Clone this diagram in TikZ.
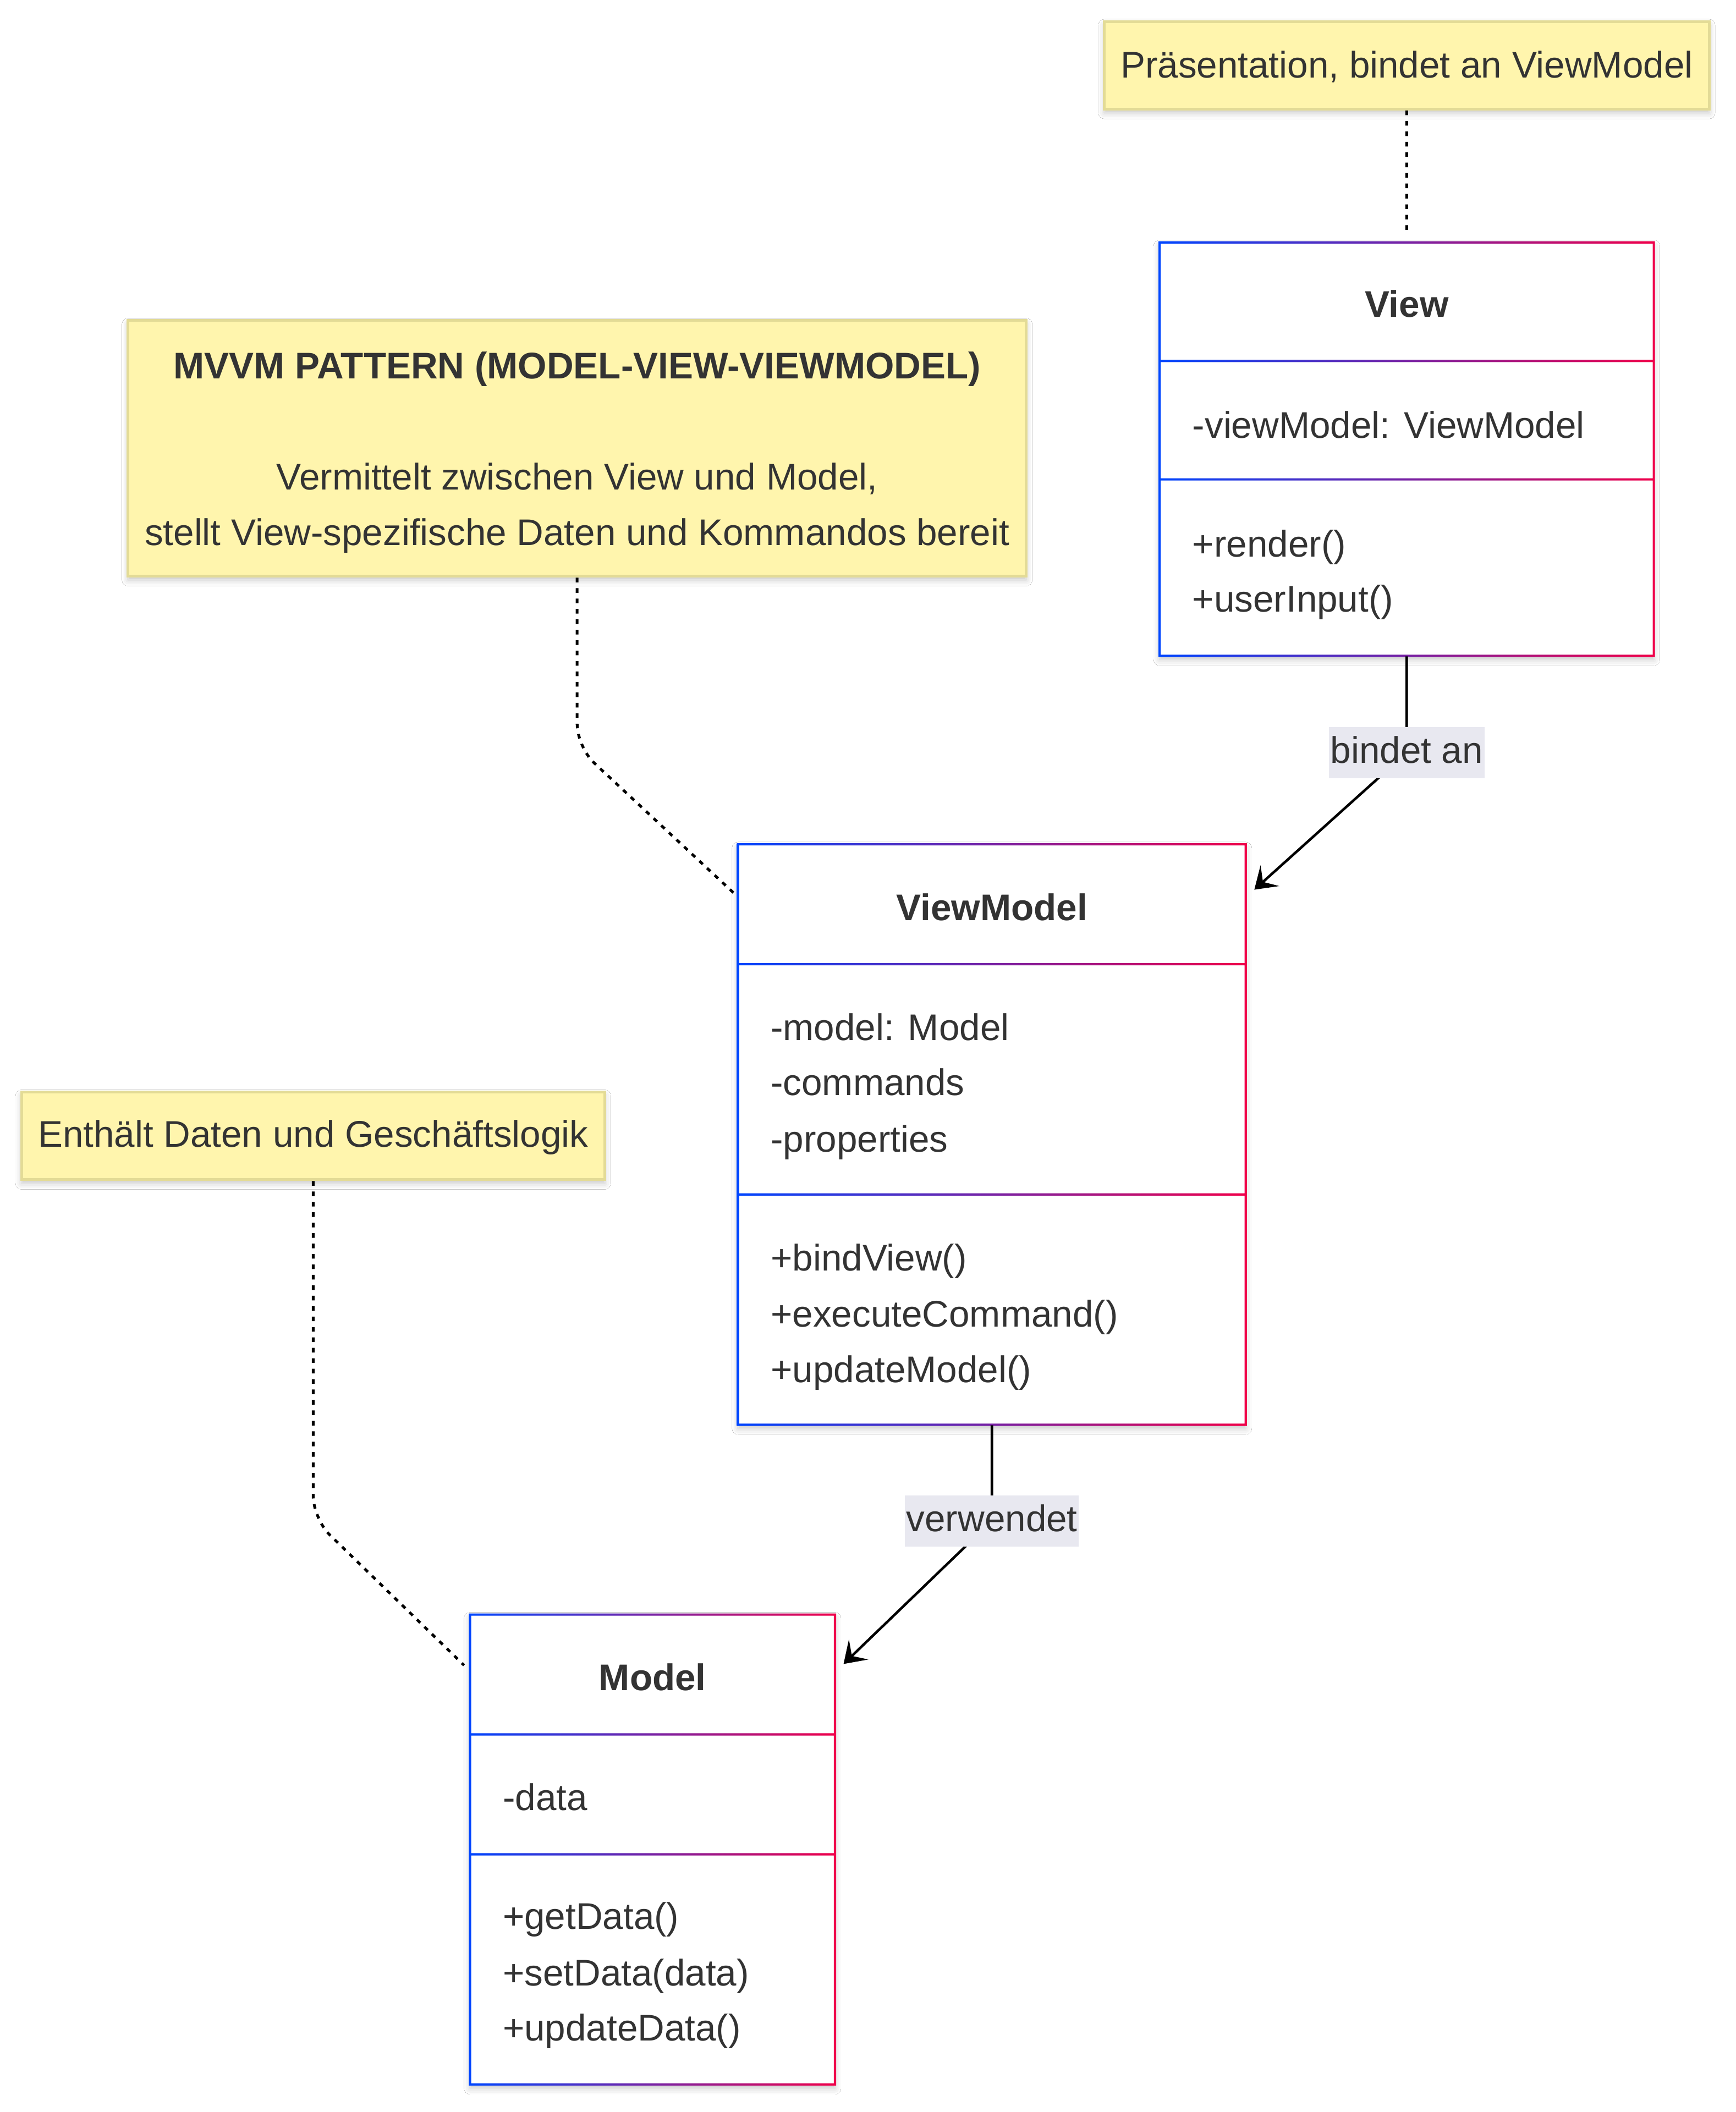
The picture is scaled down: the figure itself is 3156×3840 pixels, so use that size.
\documentclass[tikz,border=0pt]{standalone}
\usepackage{fontspec}
\setmainfont{Liberation Sans}
\usetikzlibrary{arrows.meta,calc,fit,shadows.blur}

\definecolor{ink}{HTML}{333333}
\definecolor{cblue}{HTML}{0046FF}
\definecolor{cred}{HTML}{F0004A}
\definecolor{notefill}{HTML}{FFF5AD}
\definecolor{noteline}{HTML}{E3DB96}
\definecolor{lblbg}{HTML}{E8E8F0}

\tikzset{
  softshadow/.style={blur shadow={shadow xshift=0pt, shadow yshift=-1.6pt,
      shadow blur radius=2.6pt, shadow opacity=22}},
  notebox/.style={rectangle, fill=notefill, draw=noteline, line width=1.2pt,
      softshadow, text=ink, font=\fontsize{16}{24}\selectfont, align=center, inner sep=0pt},
  classtitle/.style={font=\fontsize{16}{24}\selectfont\bfseries, text=ink, inner sep=0pt,
      text height=12pt, text depth=2pt, yshift=-0.5pt},
  member/.style={font=\fontsize{16}{24}\selectfont, text=ink, inner sep=0pt, anchor=west,
      text height=12pt, text depth=2pt, yshift=-0.5pt},
  rel/.style={draw=black, line width=1.1pt, rounded corners=6pt,
      -{Stealth[length=9pt,width=12pt,inset=4pt]}},
  notelink/.style={draw=black, line width=1.2pt, dash pattern=on 2pt off 2.5pt,
      rounded corners=10pt},
  rellabel/.style={fill=lblbg, text=ink, font=\fontsize{16}{24}\selectfont,
      inner xsep=0.6pt, inner ysep=0pt, minimum height=22pt, text height=12.5pt, text depth=3.3pt},
}

% class box: name, x1, y1, x2, y2, first divider, second divider
\newcommand{\umlbox}[7]{%
  \fill[white, softshadow] (#2,#3) rectangle (#4,#5);
  \shade[left color=cblue, right color=cred, even odd rule]
    (#2-2.1,#3-2.1) rectangle (#4+2.1,#5+2.1)
    (#2+2.1,#3+2.1) rectangle (#4-2.1,#5-2.1)
    (#2+2.1,#6-2.1) rectangle (#4-2.1,#6+2.1)
    (#2+2.1,#7-2.1) rectangle (#4-2.1,#7+2.1);
  \node[fit={(#2,#3)(#4,#5)}, inner sep=0pt] (#1) {};
}

\begin{document}
\begin{tikzpicture}[x=0.2374pt, y=-0.2374pt]
  \useasboundingbox (0,0) rectangle (3156,3840);
  \fill[white] (0,0) rectangle (3156,3840);

  % notes
  \node[notebox, minimum width=261pt, minimum height=37.8pt] (nview) at (2557.4,118.8)
    {\rule{0pt}{13pt}Präsentation, bindet an ViewModel};
  \node[notebox, minimum width=387.7pt, minimum height=110.4pt] (nvm) at (1049.2,815.3)
    {\rule{0pt}{15pt}{\bfseries MVVM PATTERN (MODEL-VIEW-VIEWMODEL)}\\[24pt]
     Vermittelt zwischen View und Model,\\
     stellt View-spezifische Daten und Kommandos bereit};
  \node[notebox, minimum width=251.7pt, minimum height=37.8pt] (nmodel) at (569.3,2065.2)
    {\rule{0pt}{13pt}Enthält Daten und Geschäftslogik};

  % classes
  \umlbox{view}{2108.1}{440.7}{3006.6}{1192.4}{656.2}{871.6}
  \node[classtitle] (viewname) at (2557.4,553.3) {View};
  \node[member] (viewa1) at (2167,773.7) {-viewModel: ViewModel};
  \node[member] (viewm1) at (2167,989.2) {+render()};
  \node[member] (viewm2) at (2167,1089.5) {+userInput()};

  \umlbox{vm}{1341.7}{1535.1}{2264.8}{2590.4}{1753.1}{2171.7}
  \node[classtitle] (vmname) at (1803.3,1650.2) {ViewModel};
  \node[member] (vma1) at (1400.5,1868.1) {-model: Model};
  \node[member] (vma2) at (1400.5,1968.5) {-commands};
  \node[member] (vma3) at (1400.5,2071.4) {-properties};
  \node[member] (vmm1) at (1400.5,2286.8) {+bindView()};
  \node[member] (vmm2) at (1400.5,2389.6) {+executeCommand()};
  \node[member] (vmm3) at (1400.5,2490.0) {+updateModel()};

  \umlbox{model}{854.5}{2935.6}{1518.0}{3790.1}{3153.5}{3371.4}
  \node[classtitle] (modelname) at (1186.3,3050.7) {Model};
  \node[member] (modela1) at (913.3,3268.6) {-data};
  \node[member] (modelm1) at (913.3,3484.1) {+getData()};
  \node[member] (modelm2) at (913.3,3586.9) {+setData(data)};
  \node[member] (modelm3) at (913.3,3687.3) {+updateData()};

  % note links
  \draw[notelink] (nview.south) -- ($(view.north)+(0,-20)$);
  \coordinate (cornerA) at ($(nvm.south)+(0,308)$);
  \draw[notelink] (nvm.south) -- (cornerA) -- ($(vm.north west)+(-3,93)$);
  \coordinate (cornerB) at ($(nmodel.south)+(0,614)$);
  \draw[notelink] (nmodel.south) -- (cornerB) -- ($(model.north west)+(-10,93)$);

  % relations
  \coordinate (bendA) at ($(view.south)+(0,175)$);
  \draw[rel] (view.south) -- (bendA) -- ($(vm.north east)+(14.7,83.3)$);
  \node[rellabel] (lblA) at (bendA) {bindet an};

  \coordinate (bendB) at ($(vm.south)+(0,174)$);
  \draw[rel] (vm.south) -- (bendB) -- ($(model.north east)+(14.7,90.6)$);
  \node[rellabel] (lblB) at (bendB) {verwendet};
\end{tikzpicture}
\end{document}
